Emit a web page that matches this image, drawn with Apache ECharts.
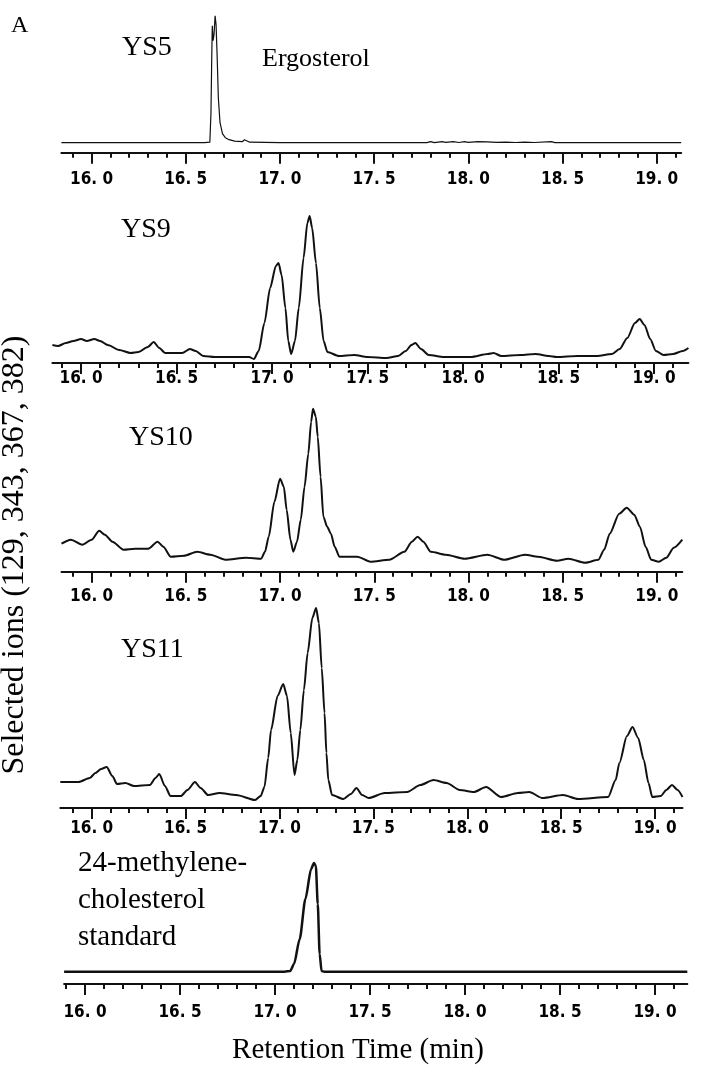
<!DOCTYPE html>
<html><head><meta charset="utf-8">
<script src="https://cdn.jsdelivr.net/npm/echarts@6/dist/echarts.min.js"></script>
<style>html,body{margin:0;padding:0;background:#fff}#c{width:701px;height:1080px}</style>
</head><body><div id="c"></div>
<script>
// ---------------- DATA ----------------
const majorTicks = [16.0, 16.5, 17.0, 17.5, 18.0, 18.5, 19.0];
const majorTickLabels = ['16. 0', '16. 5', '17. 0', '17. 5', '18. 0', '18. 5', '19. 0'];
const minorTicks = [15.9, 16.1, 16.2, 16.3, 16.4, 16.6, 16.7, 16.8, 16.9, 17.1, 17.2, 17.3, 17.4,
  17.6, 17.7, 17.8, 17.9, 18.1, 18.2, 18.3, 18.4, 18.6, 18.7, 18.8, 18.9, 19.1];
const panelLabels = ['YS5', 'YS9', 'YS10', 'YS11', '24-methylene-\ncholesterol\nstandard'];
const compoundLabel = 'Ergosterol';
const xTitle = 'Retention Time (min)';
const yTitle = 'Selected ions (129, 343, 367, 382)';

// [retention time (min), relative intensity]
const ys5 = [[15.84,10],[16.0,10],[16.3,10],[16.6,10],[16.628,10.5],[16.634,40],[16.638,95],[16.641,127],
  [16.645,112],[16.65,118],[16.656,137],[16.661,128],[16.667,95],[16.673,55],[16.682,30],[16.695,19],
  [16.71,15],[16.73,13],[16.76,11.5],[16.8,11],[16.812,13],[16.822,12],[16.84,10.5],[17.0,10],[17.5,10],
  [17.78,10],[17.8,11],[17.82,10],[17.86,11],[17.88,10.3],[17.92,11],[17.95,10.2],[17.98,11],[18.0,10.4],
  [18.05,11],[18.1,10.8],[18.15,10.3],[18.2,10.5],[18.25,10.2],[18.3,10.6],[18.35,10.2],[18.44,11],
  [18.46,10],[19.13,10]];
const ys9 = [[15.85,18],[15.88,17],[15.92,20],[15.96,22],[16.0,24],[16.03,22],[16.07,24],[16.1,22],
  [16.14,18],[16.2,13],[16.26,10],[16.3,11],[16.35,16],[16.38,21],[16.41,15],[16.44,10],[16.48,10],
  [16.53,10],[16.57,14],[16.6,12],[16.64,7],[16.7,6],[16.8,6],[16.88,6],[16.905,4],[16.93,12],[16.96,40],
  [16.99,75],[17.02,97],[17.034,100],[17.05,88],[17.07,55],[17.085,22],[17.10,9],[17.12,22],[17.14,55],
  [17.165,105],[17.185,140],[17.197,147],[17.21,135],[17.23,100],[17.25,55],[17.27,22],[17.29,11],
  [17.35,7],[17.43,8],[17.5,6],[17.6,5],[17.66,7],[17.7,12],[17.73,18],[17.75,20],[17.78,14],[17.82,8],
  [17.9,6],[18.04,6],[18.13,9],[18.16,10],[18.2,7],[18.3,8],[18.38,9],[18.45,7],[18.49,6],[18.6,7],
  [18.7,7],[18.78,9],[18.82,14],[18.86,25],[18.9,40],[18.925,44],[18.95,38],[18.98,24],[19.01,12],
  [19.05,8],[19.1,9],[19.15,12],[19.18,15]];
const ys10 = [[15.84,28],[15.89,32],[15.95,27],[16.0,32],[16.04,41],[16.07,37],[16.11,30],[16.17,22],
  [16.23,23],[16.3,23],[16.35,30],[16.38,25],[16.42,15],[16.49,16],[16.56,20],[16.63,17],[16.71,12],
  [16.82,14],[16.9,13],[16.92,20],[16.94,35],[16.97,70],[17.0,93],[17.02,85],[17.035,62],[17.055,32],
  [17.07,20],[17.09,30],[17.11,52],[17.13,85],[17.15,118],[17.165,150],[17.175,163],[17.19,155],
  [17.2,135],[17.215,95],[17.23,55],[17.25,45],[17.27,38],[17.29,25],[17.315,15],[17.41,15],[17.48,10],
  [17.58,12],[17.66,20],[17.7,30],[17.73,35],[17.76,30],[17.8,20],[17.88,17],[17.98,13],[18.1,17],
  [18.19,12],[18.3,17],[18.37,15],[18.47,11],[18.53,13],[18.62,9],[18.69,12],[18.72,22],[18.75,38],
  [18.8,58],[18.84,64],[18.88,57],[18.91,45],[18.94,25],[18.97,12],[19.01,10],[19.05,14],[19.09,24],
  [19.135,32]];
const ys11 = [[15.833,26],[15.93,26],[15.99,30],[16.02,35],[16.05,39],[16.08,41],[16.11,32],[16.135,24],
  [16.18,25],[16.225,22],[16.31,23],[16.34,30],[16.36,34],[16.39,22],[16.42,12],[16.475,12],[16.51,18],
  [16.55,26],[16.58,20],[16.62,13],[16.68,15],[16.77,13],[16.87,8],[16.9,12],[16.92,21],[16.94,50],
  [16.955,78],[16.99,112],[17.02,124],[17.04,112],[17.06,75],[17.08,33],[17.095,48],[17.111,78],
  [17.13,118],[17.15,155],[17.175,190],[17.195,200],[17.21,185],[17.225,140],[17.24,95],[17.25,55],
  [17.26,28],[17.28,13],[17.34,9],[17.38,14],[17.41,20],[17.44,13],[17.475,10],[17.56,15],[17.68,16],
  [17.75,23],[17.82,28],[17.89,25],[17.96,18],[18.035,16],[18.1,21],[18.18,11],[18.27,15],[18.33,16],
  [18.4,10],[18.51,13],[18.59,9],[18.75,11],[18.79,28],[18.81,45],[18.85,72],[18.88,81],[18.91,70],
  [18.94,48],[18.965,25],[18.985,11],[19.03,12],[19.06,18],[19.09,23],[19.12,18],[19.146,11]];
const standard = [[15.89,12.3],[16.5,12.3],[17.05,12.3],[17.08,13],[17.1,20],[17.13,45],[17.16,85],
  [17.19,115],[17.205,121],[17.215,118],[17.225,80],[17.235,30],[17.245,13],[17.26,12.3],[18.0,12.3],
  [19.17,12.3]];
const seriesData = [ys5, ys9, ys10, ys11, standard];

// ---------------- LAYOUT ----------------
const panels = [
  {min: 15.84, max: 19.13, left: 61.4, right: 681.2, top: 5, axisY: 152.7, labelGap: 18, lw: 1.2},
  {min: 15.85, max: 19.18, left: 52.4, right: 688.4, top: 200, axisY: 363, labelGap: 7, lw: 2},
  {min: 15.84, max: 19.135, left: 61.5, right: 682.3, top: 400, axisY: 571.7, labelGap: 16, lw: 2},
  {min: 15.833, max: 19.146, left: 60.3, right: 682.5, top: 600, axisY: 808, labelGap: 12, lw: 2},
  {min: 15.89, max: 19.17, left: 64.1, right: 687.3, top: 840, axisY: 984, labelGap: 20, lw: 2.5}
];

const grids = [], xAxes = [], yAxes = [], series = [];
const ink = '#111';

panels.forEach((p, i) => {
  const h = p.axisY - p.top;
  grids.push({left: p.left, width: p.right - p.left, top: p.top, height: h,
    containLabel: false, outerBoundsMode: 'none'});
  xAxes.push({type: 'value', gridIndex: i, min: p.min, max: p.max, position: 'bottom',
    axisLine: {show: true, onZero: false, lineStyle: {color: ink, width: 2}},
    axisTick: {show: true, length: 11, customValues: majorTicks, lineStyle: {color: ink, width: 2}},
    axisLabel: {show: true, customValues: majorTicks, margin: p.labelGap,
      formatter: v => majorTickLabels[majorTicks.findIndex(t => Math.abs(t - v) < 1e-6)] || '',
      color: '#000', fontFamily: '"DejaVu Sans Condensed", "DejaVu Sans", sans-serif',
      fontWeight: 'bold', fontSize: 17, verticalAlign: 'top'},
    splitLine: {show: false}});
  xAxes.push({type: 'value', gridIndex: i, min: p.min, max: p.max, position: 'bottom',
    axisLine: {show: false, onZero: false},
    axisTick: {show: true, length: 5, customValues: minorTicks, lineStyle: {color: ink, width: 2}},
    axisLabel: {show: false}, splitLine: {show: false}});
  yAxes.push({type: 'value', gridIndex: i, min: 0, max: h, show: false});
  series.push({type: 'line', xAxisIndex: 2 * i, yAxisIndex: i, data: seriesData[i],
    showSymbol: false, smooth: i === 0 ? false : 0.25, smoothMonotone: 'x',
    lineStyle: {color: ink, width: p.lw}, silent: true});
});

const serif = '"Liberation Serif", "Times New Roman", serif';
const graphic = [
  {type: 'text', style: {x: 11, y: 14, text: 'A', font: '24px ' + serif, fill: '#000'}},
  {type: 'text', style: {x: 122, y: 34, text: panelLabels[0], font: '28px ' + serif, fill: '#000'}},
  {type: 'text', style: {x: 262, y: 46, text: compoundLabel, font: '26px ' + serif, fill: '#000'}},
  {type: 'text', style: {x: 121, y: 216, text: panelLabels[1], font: '28px ' + serif, fill: '#000'}},
  {type: 'text', style: {x: 129, y: 424, text: panelLabels[2], font: '28px ' + serif, fill: '#000'}},
  {type: 'text', style: {x: 121, y: 636, text: panelLabels[3], font: '28px ' + serif, fill: '#000'}},
  {type: 'text', style: {x: 78, y: 845, text: panelLabels[4], font: '29px ' + serif, lineHeight: 37, fill: '#000'}},
  {type: 'text', style: {x: 358, y: 1050, text: xTitle, font: '29px ' + serif, fill: '#000',
    textAlign: 'center', textVerticalAlign: 'middle'}},
  {type: 'text', x: 15, y: 555, rotation: Math.PI / 2,
    style: {x: 0, y: 0, text: yTitle, font: '32px ' + serif, fill: '#000',
      textAlign: 'center', textVerticalAlign: 'middle'}}
];

const chart = echarts.init(document.getElementById('c'), null, {renderer: 'canvas'});
chart.setOption({animation: false, backgroundColor: '#fff', grid: grids, xAxis: xAxes, yAxis: yAxes,
  series: series, graphic: graphic});
</script></body></html>
